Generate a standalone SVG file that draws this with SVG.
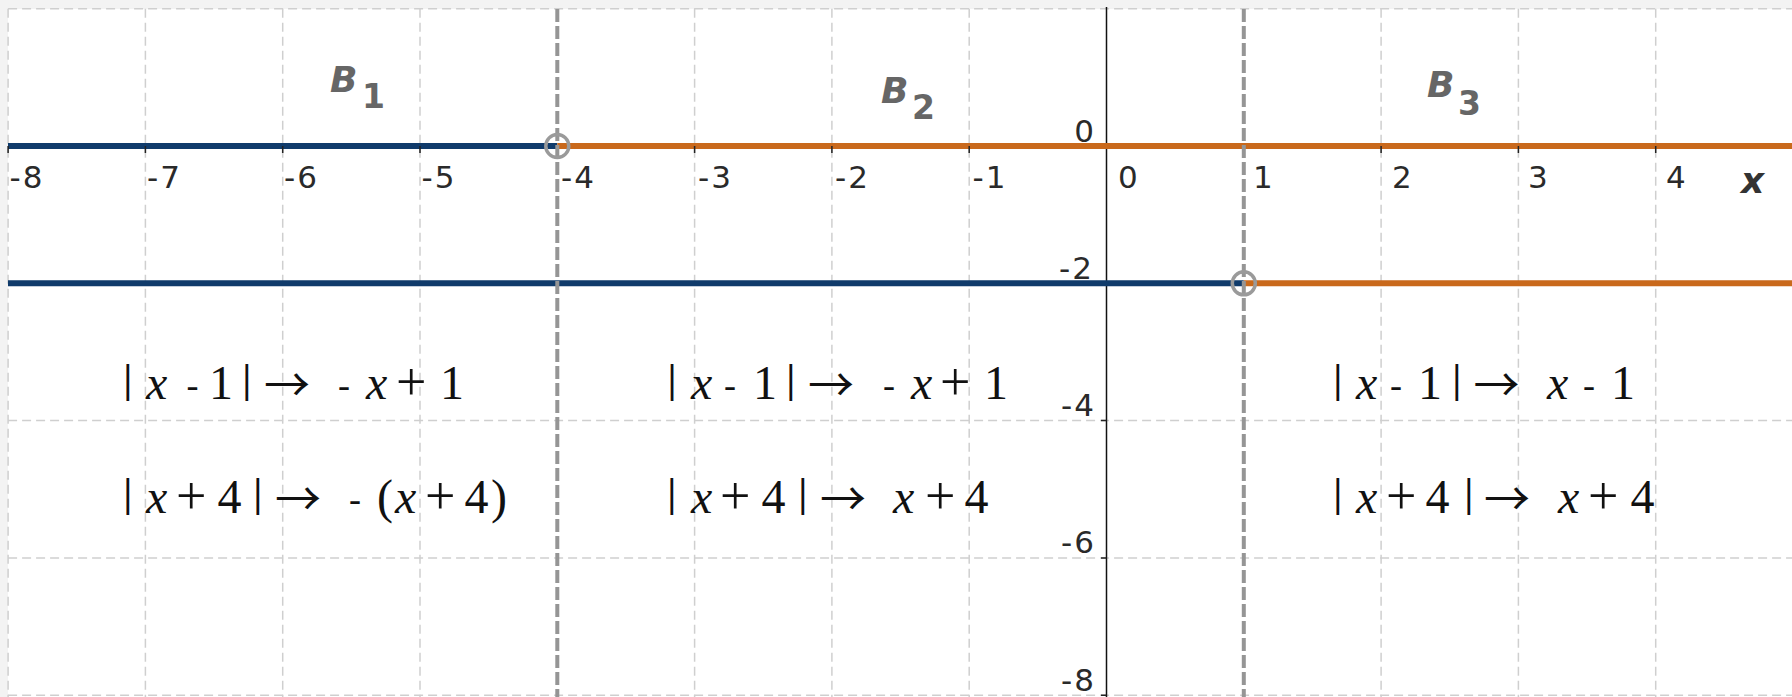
<svg xmlns="http://www.w3.org/2000/svg" width="1792" height="697" viewBox="0 0 1792 697">
<style>
.grid{stroke:#cfcfcf;stroke-width:1.5;stroke-dasharray:9 5;fill:none}
.bound{stroke:#959595;stroke-width:4;stroke-dasharray:13 4;fill:none}
.axis{stroke:#111;stroke-width:1.5;fill:none}
.tick{stroke:#222;stroke-width:1.5}
.blue{stroke:#103b6b;stroke-width:6;fill:none}
.orange{stroke:#c9691c;stroke-width:6;fill:none}
.hole{fill:none;stroke:#9a9a9a;stroke-width:3.5}
.num{font-family:"DejaVu Sans",sans-serif;font-size:31px;fill:#2a2a2a;letter-spacing:2px}
.ynum{font-family:"DejaVu Sans",sans-serif;font-size:31px;fill:#2a2a2a;text-anchor:end;letter-spacing:2px}
.blab{font-family:"DejaVu Sans",sans-serif;font-size:36px;font-weight:bold;font-style:italic;fill:#666}
.bsub{font-family:"DejaVu Sans",sans-serif;font-size:33px;font-weight:bold;fill:#666}
.xlab{font-family:"DejaVu Sans",sans-serif;font-size:36px;font-weight:bold;font-style:italic;fill:#333}
.eq{font-family:"Liberation Serif","DejaVu Serif",serif;font-size:48px;fill:#111}
.eq .i{font-style:italic}
.eq .b{font-size:39px;font-weight:bold}
.eq .m{font-size:36px}
.eq .p{font-size:54px}
.eq .a{font-family:"Noto Sans CJK JP","DejaVu Sans",sans-serif;font-size:46px}
</style>
<rect x="0" y="0" width="1792" height="697" fill="#f3f3f3"/>
<rect x="8" y="9" width="1784" height="688" fill="#ffffff"/>
<g id="grid">
<path class="grid" d="M8.1 8.7V697M145.4 8.7V697M282.7 8.7V697M420 8.7V697M694.6 8.7V697M831.9 8.7V697M969.2 8.7V697M1381.1 8.7V697M1518.4 8.7V697M1655.7 8.7V697"/>
<path class="grid" d="M8.1 8.7H1792M8.1 146H1792M8.1 283.3H1792M8.1 420.6H1792M8.1 557.9H1792M8.1 695.2H1792"/>
</g>
<g id="axes">
<line class="axis" x1="1106.5" y1="7" x2="1106.5" y2="697"/>
<path class="tick" d="M1101 146H1106.5M1101 283.3H1106.5M1101 420.6H1106.5M1101 557.9H1106.5M1101 695.2H1106.5"/>
<g id="x-labels" class="num">
<text x="9.5" y="188">-8</text>
<text x="147" y="188">-7</text>
<text x="284" y="188">-6</text>
<text x="421.5" y="188">-5</text>
<text x="561" y="188">-4</text>
<text x="698" y="188">-3</text>
<text x="835" y="188">-2</text>
<text x="972.5" y="188">-1</text>
<text x="1118" y="188">0</text>
<text x="1253" y="188">1</text>
<text x="1392" y="188">2</text>
<text x="1528" y="188">3</text>
<text x="1666" y="188">4</text>
</g>
<g id="y-labels" class="ynum">
<text x="1096" y="141.5">0</text>
<text x="1094" y="278.5">-2</text>
<text x="1096" y="415.5">-4</text>
<text x="1096" y="553">-6</text>
<text x="1096" y="691">-8</text>
</g>
<text id="x-axis-label" class="xlab" x="1741" y="193">x</text>
</g>
<g id="connectors">
<line class="blue" x1="8" y1="146" x2="557.3" y2="146"/>
<line class="orange" x1="557.3" y1="146" x2="1792" y2="146"/>
<line class="blue" x1="8" y1="283.3" x2="1243.8" y2="283.3"/>
<line class="orange" x1="1243.8" y1="283.3" x2="1792" y2="283.3"/>
<path class="tick" d="M8.1 146V153M145.4 146V153M282.7 146V153M420 146V153M557.3 146V153M694.6 146V153M831.9 146V153M969.2 146V153M1243.8 146V153M1381.1 146V153M1518.4 146V153M1655.7 146V153"/>
<line class="bound" x1="557.3" y1="9" x2="557.3" y2="697"/>
<line class="bound" x1="1243.8" y1="9" x2="1243.8" y2="697"/>
</g>
<g id="hole-a"><circle class="hole" cx="557.3" cy="146" r="11.5"/></g>
<g id="hole-b"><circle class="hole" cx="1243.8" cy="283.3" r="11.5"/></g>
<g id="B1"><text class="blab" x="330" y="91.5">B</text><text class="bsub" x="362" y="108">1</text></g>
<g id="B2"><text class="blab" x="881" y="102.5">B</text><text class="bsub" x="912" y="119">2</text></g>
<g id="B3"><text class="blab" x="1427" y="96.5">B</text><text class="bsub" x="1458" y="115">3</text></g>
<g id="region1">
<text class="eq"><tspan class="b" x="123.4" y="391.7">|</tspan><tspan class="i" x="146" y="399">x</tspan><tspan class="m" x="186.5" y="396.5">-</tspan><tspan x="209" y="399">1</tspan><tspan class="b" x="242.4" y="391.7">|</tspan><tspan class="a" x="264" y="401">→</tspan><tspan class="m" x="338" y="396.5">-</tspan><tspan class="i" x="366" y="399">x</tspan><tspan class="p" x="396" y="400">+</tspan><tspan x="440" y="399">1</tspan></text>
<text class="eq"><tspan class="b" x="123.4" y="505.7">|</tspan><tspan class="i" x="146" y="513">x</tspan><tspan class="p" x="176" y="514">+</tspan><tspan x="217.5" y="513">4</tspan><tspan class="b" x="253.4" y="505.7">|</tspan><tspan class="a" x="275" y="515">→</tspan><tspan class="m" x="349" y="510.5">-</tspan><tspan x="377" y="513">(</tspan><tspan class="i" x="395" y="513">x</tspan><tspan class="p" x="425" y="514">+</tspan><tspan x="464.5" y="513">4</tspan><tspan x="491" y="513">)</tspan></text>
</g>
<g id="region2">
<text class="eq"><tspan class="b" x="667.7" y="391.7">|</tspan><tspan class="i" x="691" y="399">x</tspan><tspan class="m" x="724" y="396.5">-</tspan><tspan x="753" y="399">1</tspan><tspan class="b" x="786.4" y="391.7">|</tspan><tspan class="a" x="808" y="401">→</tspan><tspan class="m" x="883" y="396.5">-</tspan><tspan class="i" x="911" y="399">x</tspan><tspan class="p" x="940" y="400">+</tspan><tspan x="984" y="399">1</tspan></text>
<text class="eq"><tspan class="b" x="667.4" y="505.7">|</tspan><tspan class="i" x="691" y="513">x</tspan><tspan class="p" x="720" y="514">+</tspan><tspan x="761.5" y="513">4</tspan><tspan class="b" x="798.4" y="505.7">|</tspan><tspan class="a" x="820" y="515">→</tspan><tspan class="i" x="893" y="513">x</tspan><tspan class="p" x="925" y="514">+</tspan><tspan x="964.5" y="513">4</tspan></text>
</g>
<g id="region3">
<text class="eq"><tspan class="b" x="1333.4" y="391.7">|</tspan><tspan class="i" x="1356" y="399">x</tspan><tspan class="m" x="1390" y="396.5">-</tspan><tspan x="1418" y="399">1</tspan><tspan class="b" x="1452.4" y="391.7">|</tspan><tspan class="a" x="1473.5" y="401">→</tspan><tspan class="i" x="1547" y="399">x</tspan><tspan class="m" x="1583" y="396.5">-</tspan><tspan x="1611" y="399">1</tspan></text>
<text class="eq"><tspan class="b" x="1333.4" y="505.7">|</tspan><tspan class="i" x="1356" y="513">x</tspan><tspan class="p" x="1386" y="514">+</tspan><tspan x="1425.5" y="513">4</tspan><tspan class="b" x="1464.4" y="505.7">|</tspan><tspan class="a" x="1484" y="515">→</tspan><tspan class="i" x="1558" y="513">x</tspan><tspan class="p" x="1588" y="514">+</tspan><tspan x="1630.5" y="513">4</tspan></text>
</g>
</svg>
